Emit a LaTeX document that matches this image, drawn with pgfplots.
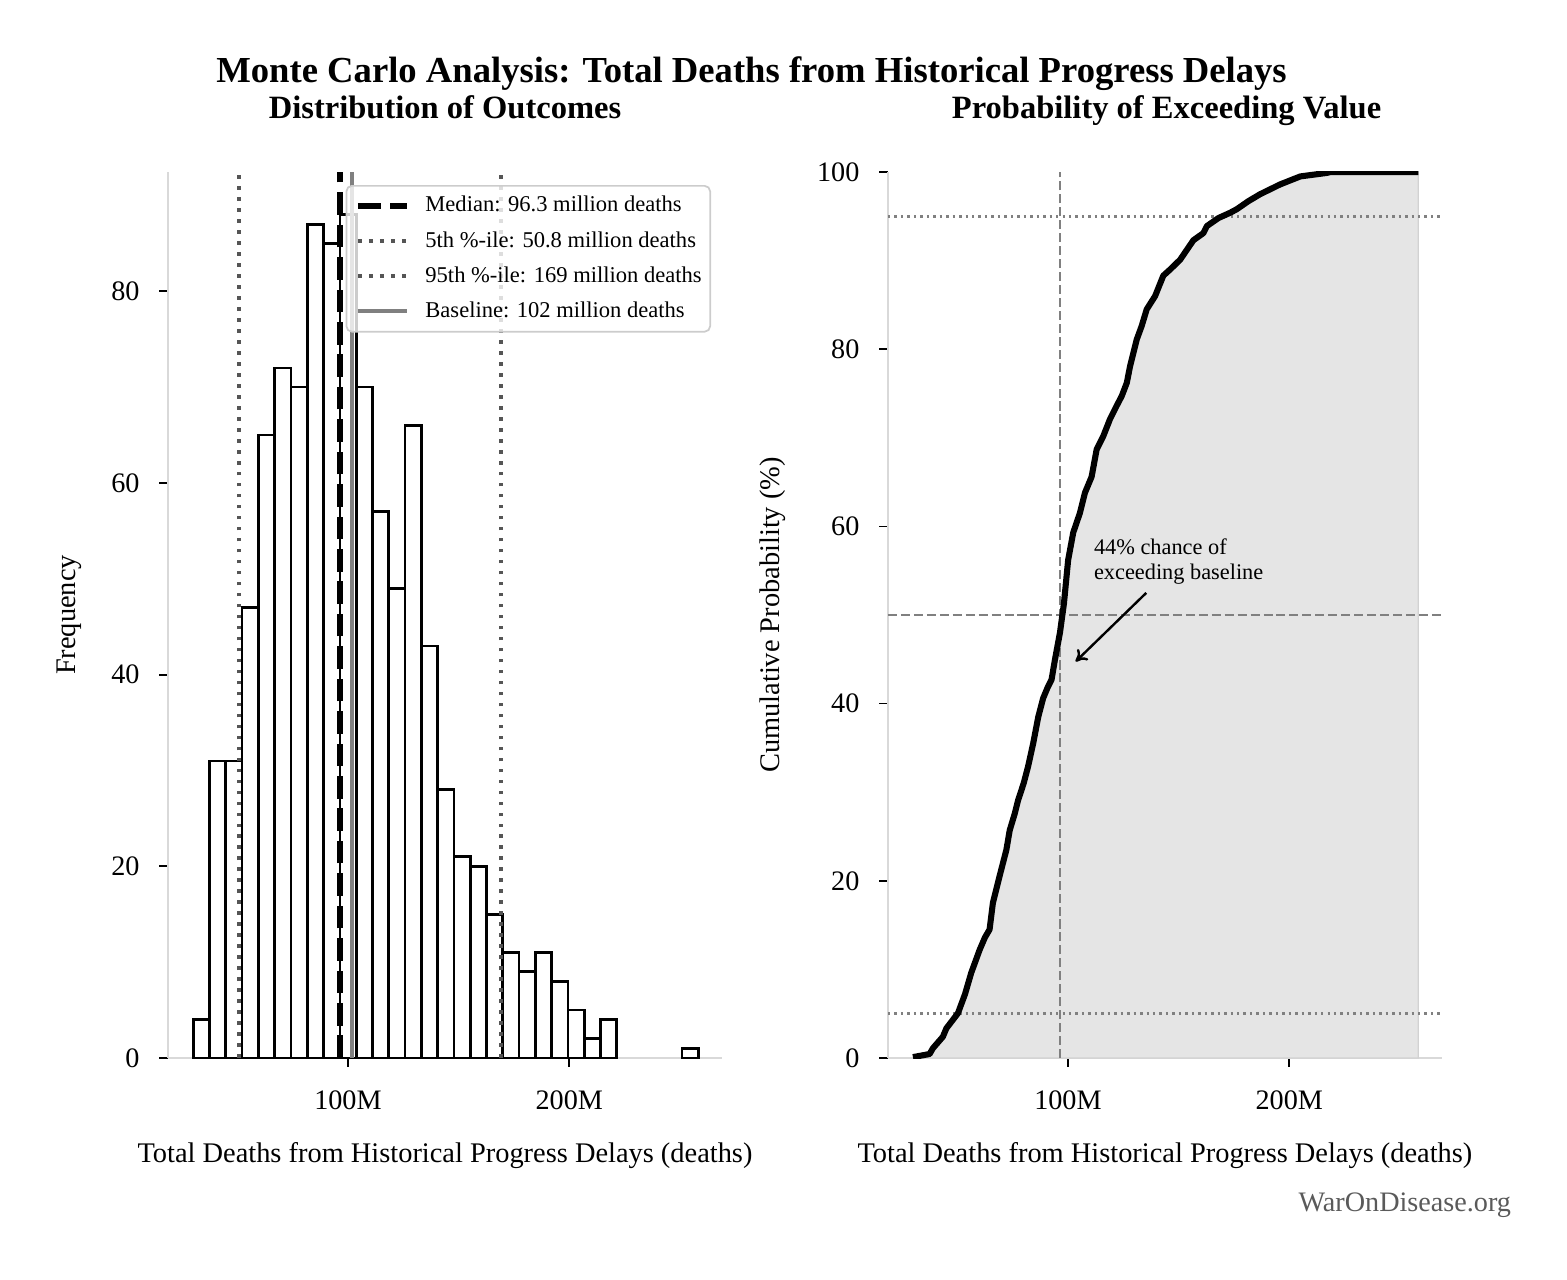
\documentclass[border=0pt]{standalone}
\usepackage{fontspec}
\setmainfont{Liberation Serif}
\usepackage{pgfplots}
\pgfplotsset{compat=1.18}
\usetikzlibrary{arrows.meta}

\definecolor{spine}{HTML}{D9D9D9}
\definecolor{pct}{HTML}{555555}
\definecolor{basec}{HTML}{808080}
\definecolor{fillc}{HTML}{E5E5E5}
\definecolor{refc}{HTML}{808080}
\definecolor{wm}{HTML}{5A5A5A}
\definecolor{legedge}{HTML}{CCCCCC}
\definecolor{filledge}{HTML}{D2D2D2}

\pgfplotsset{
  mystyle/.style={
    scale only axis, width=254.55bp, height=407.1bp,
    anchor=south west,
    axis lines=left,
    axis line style={-, spine, line width=0.8bp},
    xmin=18.7, xmax=269,
    xtick={100,200}, xticklabels={100M,200M},
    tick align=outside, major tick length=4.1bp,
    tick style={black, line width=0.8bp},
    tick label style={font=\fontsize{13}{15}\selectfont},
    /pgf/number format/assume math mode=true,
    label style={font=\fontsize{13.1}{15}\selectfont},
    xlabel={Total Deaths from Historical Progress Delays (deaths)},
    xlabel style={at={(axis description cs:0.5,-0.1184)}, anchor=base},
    xticklabel style={anchor=base, yshift=-19.5bp},
    yticklabel style={xshift=-5.5bp},
    clip=true,
  }
}

\begin{document}
\begin{tikzpicture}
\path[use as bounding box] (0,0) rectangle (720bp,588.13bp);

% ---------------- left: histogram ----------------
\begin{axis}[mystyle, at={(77.2bp,102bp)},
  ymin=0, ymax=92.45, ytick={0,20,40,60,80},
  ylabel={Frequency},
  ylabel style={at={(axis description cs:-0.1787,0.5)}, anchor=center},
  legend cell align=left,
  legend image code/.code={\draw[#1] (0bp,0bp) -- (22.3bp,0bp);},
  legend style={
    at={(0.9801,0.9853)}, anchor=north east,
    draw=legedge, line width=0.8bp, rounded corners=2.5bp,
    fill=white, fill opacity=0.8, text opacity=1, draw opacity=1,
    inner xsep=3.9bp, inner ysep=4.5bp,
    row sep=6.4bp,
    font=\fontsize{10.4}{12}\selectfont,
    nodes={inner sep=0pt, text height=7.5bp, text depth=2.2bp},
    /tikz/every odd column/.style={column sep=7.3bp},
  },
]
\addplot[ybar interval, fill=white, draw=black, line width=1.25bp, forget plot] coordinates {
(30.10,4) (37.46,31) (44.82,31) (52.18,47) (59.54,65) (66.90,72) (74.26,70)
(81.62,87) (88.98,85) (96.34,88) (103.70,70) (111.06,57) (118.42,49) (125.78,66)
(133.14,43) (140.50,28) (147.86,21) (155.22,20) (162.58,15) (169.94,11) (177.30,9)
(184.66,11) (192.02,8) (199.38,5) (206.74,2) (214.10,4) (221.46,0)};
\addplot[ybar interval, fill=white, draw=black, line width=1.25bp, forget plot] coordinates {
(250.90,1) (258.26,1)};

\addplot[black, line width=2.8bp, dash pattern=on 10.4bp off 4.5bp] coordinates {(96.3,0) (96.3,92.45)};
\addlegendentry{Median: 96.3 million deaths}
\addplot[pct, line width=1.7bp, dash pattern=on 1.7bp off 3.35bp] coordinates {(50.8,0) (50.8,92.45)};
\addlegendentry{5th \%-ile: 50.8 million deaths}
\addplot[pct, line width=1.7bp, dash pattern=on 1.7bp off 3.35bp] coordinates {(169,0) (169,92.45)};
\addlegendentry{95th \%-ile: 169 million deaths}
\addplot[basec, line width=1.85bp] coordinates {(102,0) (102,92.45)};
\addlegendentry{Baseline: 102 million deaths}
\end{axis}

% ---------------- right: CDF ----------------
\begin{axis}[mystyle, at={(408bp,102bp)},
  ymin=0, ymax=100, ytick={0,20,40,60,80,100},
  ylabel={Cumulative Probability (\%)},
  ylabel style={at={(axis description cs:-0.2074,0.5)}, anchor=center},
]
\addplot[fill=fillc, draw=filledge, line width=0.6bp, forget plot] coordinates {
(30.0,0.1) (37.5,0.45) (39.0,1.1) (43.5,2.4) (45.1,3.35) (50.3,5.05) (53.5,7.2) (56.3,9.6)
(60.1,12.2) (62.5,13.6) (64.6,14.5) (66.1,17.5) (69.1,20.5) (72.2,23.5) (73.7,25.7) (76.0,27.6)
(77.5,29.1) (80.0,31.0) (82.0,32.9) (84.3,35.5) (86.6,38.5) (88.8,40.6) (90.8,41.8) (92.6,42.7) (94.1,44.9)
(96.4,48.0) (98.2,51.3) (100.1,56.2) (102.4,59.3) (105.4,61.5) (107.7,63.8) (110.7,65.6)
(113.0,68.7) (116.0,70.2) (119.0,72.1) (122.0,73.6) (124.3,74.7) (126.6,76.2) (128.1,78.1)
(131.1,81.1) (133.3,82.6) (135.6,84.5) (139.4,86.0) (143.1,88.3) (146.2,89.0) (150.7,90.1)
(156.7,92.3) (161.2,93.1) (162.8,93.9) (168.0,94.8) (173.3,95.4) (176.3,95.8) (181.5,96.7) (186.9,97.5)
(195.9,98.6) (205.0,99.5) (217.1,99.9) (218.6,100) (258.3,100)} \closedcycle;

\addplot[refc, line width=1.12bp, dash pattern=on 4.15bp off 1.8bp, forget plot] coordinates {(96.3,0) (96.3,100)};
\addplot[refc, line width=1.12bp, dash pattern=on 4.15bp off 1.8bp, forget plot] coordinates {(18.7,50) (269,50)};
\addplot[refc, line width=1.12bp, dash pattern=on 1.12bp off 1.85bp, forget plot] coordinates {(18.7,5) (269,5)};
\addplot[refc, line width=1.12bp, dash pattern=on 1.12bp off 1.85bp, forget plot] coordinates {(18.7,95) (269,95)};

\addplot[black, line width=2.8bp, line join=round, forget plot] coordinates {
(30.0,0.1) (37.5,0.45) (39.0,1.1) (43.5,2.4) (45.1,3.35) (50.3,5.05) (53.5,7.2) (56.3,9.6)
(60.1,12.2) (62.5,13.6) (64.6,14.5) (66.1,17.5) (69.1,20.5) (72.2,23.5) (73.7,25.7) (76.0,27.6)
(77.5,29.1) (80.0,31.0) (82.0,32.9) (84.3,35.5) (86.6,38.5) (88.8,40.6) (90.8,41.8) (92.6,42.7) (94.1,44.9)
(96.4,48.0) (98.2,51.3) (100.1,56.2) (102.4,59.3) (105.4,61.5) (107.7,63.8) (110.7,65.6)
(113.0,68.7) (116.0,70.2) (119.0,72.1) (122.0,73.6) (124.3,74.7) (126.6,76.2) (128.1,78.1)
(131.1,81.1) (133.3,82.6) (135.6,84.5) (139.4,86.0) (143.1,88.3) (146.2,89.0) (150.7,90.1)
(156.7,92.3) (161.2,93.1) (162.8,93.9) (168.0,94.8) (173.3,95.4) (176.3,95.8) (181.5,96.7) (186.9,97.5)
(195.9,98.6) (205.0,99.5) (217.1,99.9) (218.6,100) (258.3,100)};

\draw[-{To[length=5bp,width=7bp]}, line width=1.1bp] (axis cs:135.4,52.5) -- (axis cs:103.5,44.75);
\node[anchor=north west, inner sep=0pt, align=left, font=\fontsize{10.3}{11.5}\selectfont]
  at (axis cs:111.6,58.7) {44\% chance of\\exceeding baseline};
\end{axis}

% ---------------- titles ----------------
\node[anchor=base, font=\fontsize{16.9}{20}\selectfont\bfseries] at (345.3bp,550.4bp)
  {Monte Carlo Analysis: Total Deaths from Historical Progress Delays};
\node[anchor=base, font=\fontsize{15}{18}\selectfont\bfseries] at (204.5bp,533.9bp)
  {Distribution of Outcomes};
\node[anchor=base, font=\fontsize{15}{18}\selectfont\bfseries] at (536bp,533.9bp)
  {Probability of Exceeding Value};
\node[anchor=base east, text=wm, font=\fontsize{13}{15}\selectfont] at (697.8bp,31.4bp)
  {WarOnDisease.org};
\end{tikzpicture}
\end{document}
